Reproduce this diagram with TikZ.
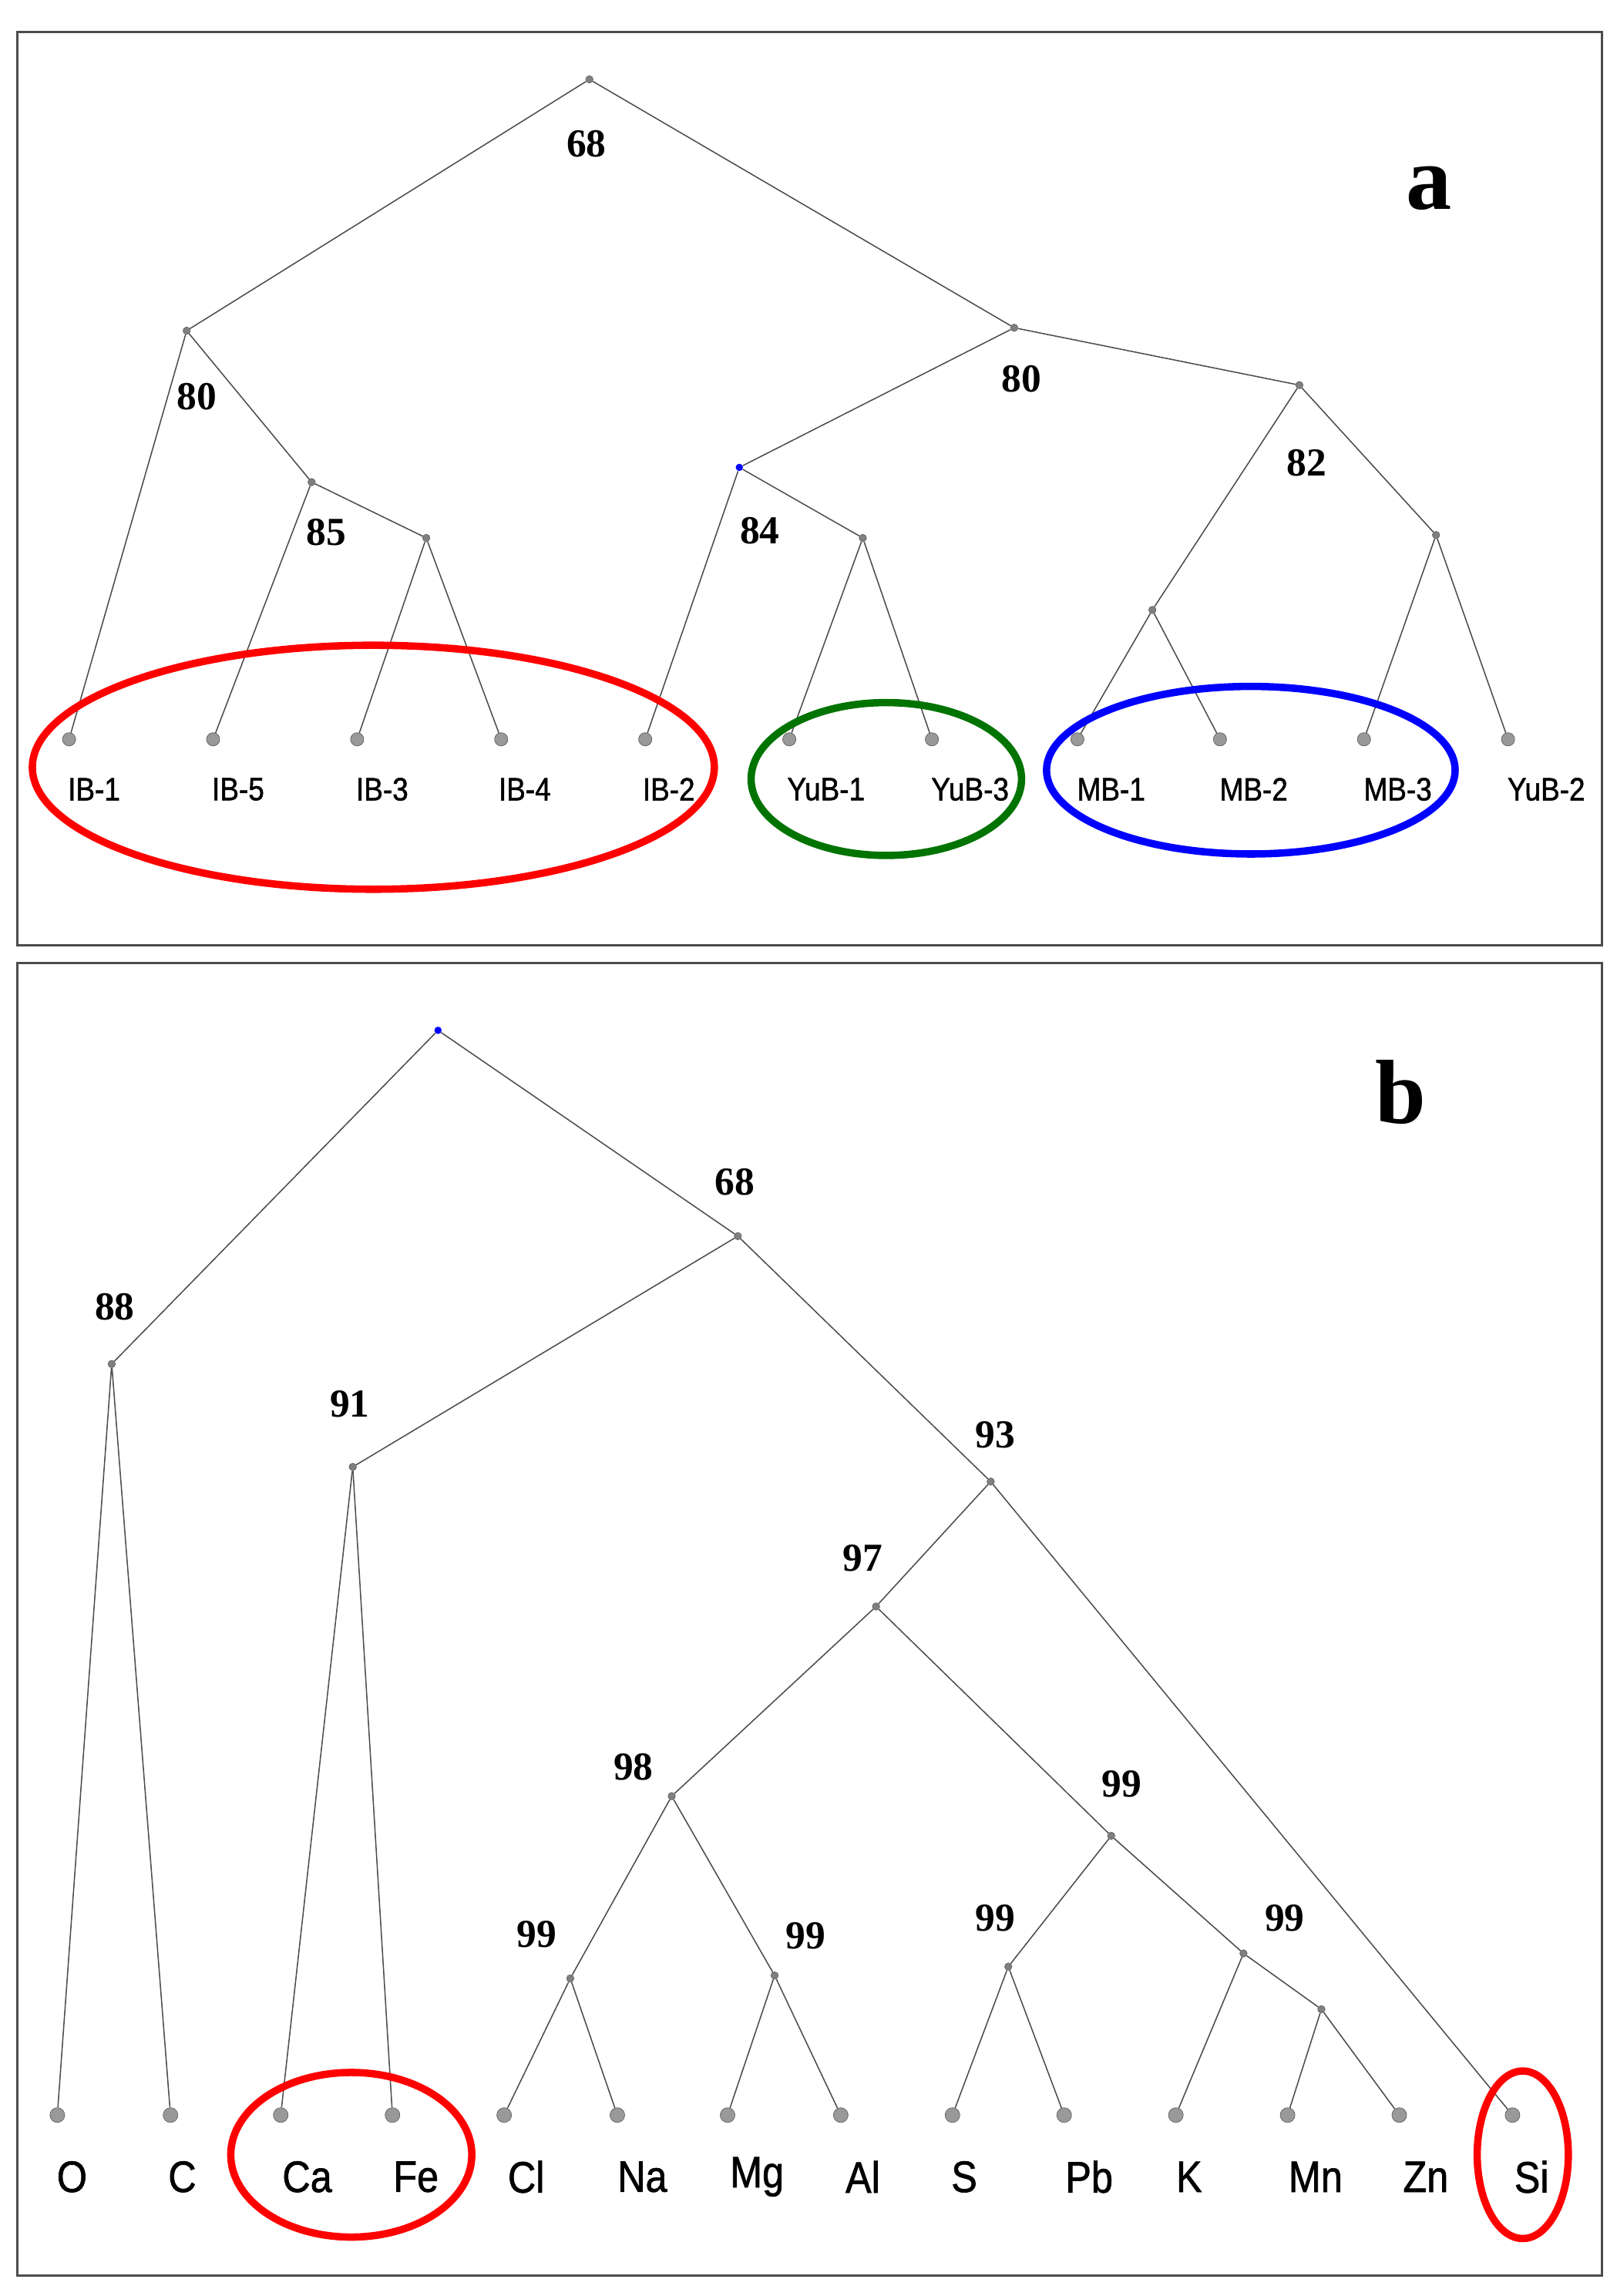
\documentclass[tikz,border=0pt]{standalone}
\usepackage{fontspec}
\setmainfont{Liberation Serif}
\setsansfont{Liberation Sans}
\newfontfamily\labfont[FakeStretch=0.88,FakeBold=1.2]{Liberation Sans}
\begin{document}
\begin{tikzpicture}[x=1pt,y=-1pt,
  edge/.style={draw=black!70,line width=0.8pt},
  inner/.style={circle,fill=gray,draw=black!60,inner sep=0pt,minimum size=5pt},
  leaf/.style={circle,fill=gray!80,draw=black!60,inner sep=0pt,minimum size=10pt},
  blue dot/.style={circle,fill=blue,inner sep=0pt,minimum size=5pt},
  num/.style={font=\fontsize{27}{28}\selectfont\bfseries},
  lab/.style={font=\labfont\fontsize{22}{24}\selectfont},
  labb/.style={font=\labfont\fontsize{30}{32}\selectfont},
  panel/.style={draw=black!70,line width=1.6pt},
  ring/.style={line width=5pt}]
\useasboundingbox (0,0) rectangle (1100,1562.1);
\draw[panel] (12,22) rectangle (1090,643);
\draw[panel] (12,655) rectangle (1090,1548);
% panel a
\node[font=\fontsize{62}{64}\selectfont\bfseries] (la) at (972,128) {a};
\node[inner] (r) at (401,54) {};
\node[inner] (A) at (127,225) {};
\node[inner] (B) at (212,328) {};
\node[inner] (C) at (290,366) {};
\node[inner] (D) at (690,223) {};
\node[blue dot] (E) at (503,318) {};
\node[inner] (F) at (587,366) {};
\node[inner] (G) at (884,262) {};
\node[inner] (H) at (784,415) {};
\node[inner] (I) at (977,364) {};
\foreach \n/\x/\t/\lx in {l1/47/IB-1/64,l2/145/IB-5/162,l3/243/IB-3/260,l4/341/IB-4/357,l5/439/IB-2/455,l6/537/YuB-1/562,l7/634/YuB-3/660,l8/733/MB-1/756,l9/830/MB-2/853,l10/928/MB-3/951,l11/1026/YuB-2/1052}{
  \node[leaf,minimum size=9pt] (\n) at (\x,503) {};
  \node[lab] (t\n) at (\lx,537) {\t};
}
\foreach \a/\b in {r/A,r/D,A/l1,A/B,B/l2,B/C,C/l3,C/l4,D/E,D/G,E/l5,E/F,F/l6,F/l7,G/H,G/I,H/l8,H/l9,I/l10,I/l11}
  \draw[edge] (\a) -- (\b);
\node[num] (n1) at (399,98) {68};
\node[num] (n2) at (134,270) {80};
\node[num] (n3) at (222,362) {85};
\node[num] (n4) at (695,258) {80};
\node[num] (n5) at (517,361) {84};
\node[num] (n6) at (889,315) {82};
\draw[ring,red] (254,522) ellipse [x radius=232,y radius=83];
\draw[ring,green!45!black] (603,530) ellipse [x radius=92,y radius=52];
\draw[ring,blue] (851,524) ellipse [x radius=139,y radius=57];
% panel b
\node[font=\fontsize{62}{64}\selectfont\bfseries] (lb) at (953,743) {b};
\node[blue dot] (R) at (298,701) {};
\node[inner] (P88) at (76,928) {};
\node[inner] (P68) at (502,841) {};
\node[inner] (P91) at (240,998) {};
\node[inner] (P93) at (674,1008) {};
\node[inner] (P97) at (596,1093) {};
\node[inner] (P98) at (457,1222) {};
\node[inner] (Qa) at (756,1249) {};
\node[inner] (Qb) at (388,1346) {};
\node[inner] (Qc) at (527,1344) {};
\node[inner] (Qd) at (686,1338) {};
\node[inner] (Qe) at (846,1329) {};
\node[inner] (Qf) at (899,1367) {};
\foreach \n/\x/\t/\lx in {O/39/O/49,Cc/116/C/124,Ca/191/Ca/209,Fe/267/Fe/283,Cl/343/Cl/358,Na/420/Na/437,Mg/495/Mg/515,Al/572/Al/587,S/648/S/656,Pb/724/Pb/741,K/800/K/809,Mn/876/Mn/895,Zn/952/Zn/970,Si/1029/Si/1042}{
  \node[leaf] (\n) at (\x,1439) {};
  \node[labb] (t\n) at (\lx,1481) {\t};
}
\foreach \a/\b in {R/P88,R/P68,P88/O,P88/Cc,P68/P91,P68/P93,P91/Ca,P91/Fe,P93/P97,P93/Si,P97/P98,P97/Qa,P98/Qb,P98/Qc,Qb/Cl,Qb/Na,Qc/Mg,Qc/Al,Qa/Qd,Qa/Qe,Qd/S,Qd/Pb,Qe/K,Qe/Qf,Qf/Mn,Qf/Zn}
  \draw[edge] (\a) -- (\b);
\node[num] (m1) at (78,889) {88};
\node[num] (m2) at (500,804) {68};
\node[num] (m3) at (238,955) {91};
\node[num] (m4) at (677,976) {93};
\node[num] (m5) at (587,1060) {97};
\node[num] (m6) at (431,1202) {98};
\node[num] (m7) at (763,1214) {99};
\node[num] (m8) at (365,1316) {99};
\node[num] (m9) at (548,1317) {99};
\node[num] (m10) at (677,1305) {99};
\node[num] (m11) at (874,1305) {99};
\draw[ring,red] (239,1466) ellipse [x radius=82,y radius=56];
\draw[ring,red] (1036,1466) ellipse [x radius=31,y radius=57];
\end{tikzpicture}
\end{document}
